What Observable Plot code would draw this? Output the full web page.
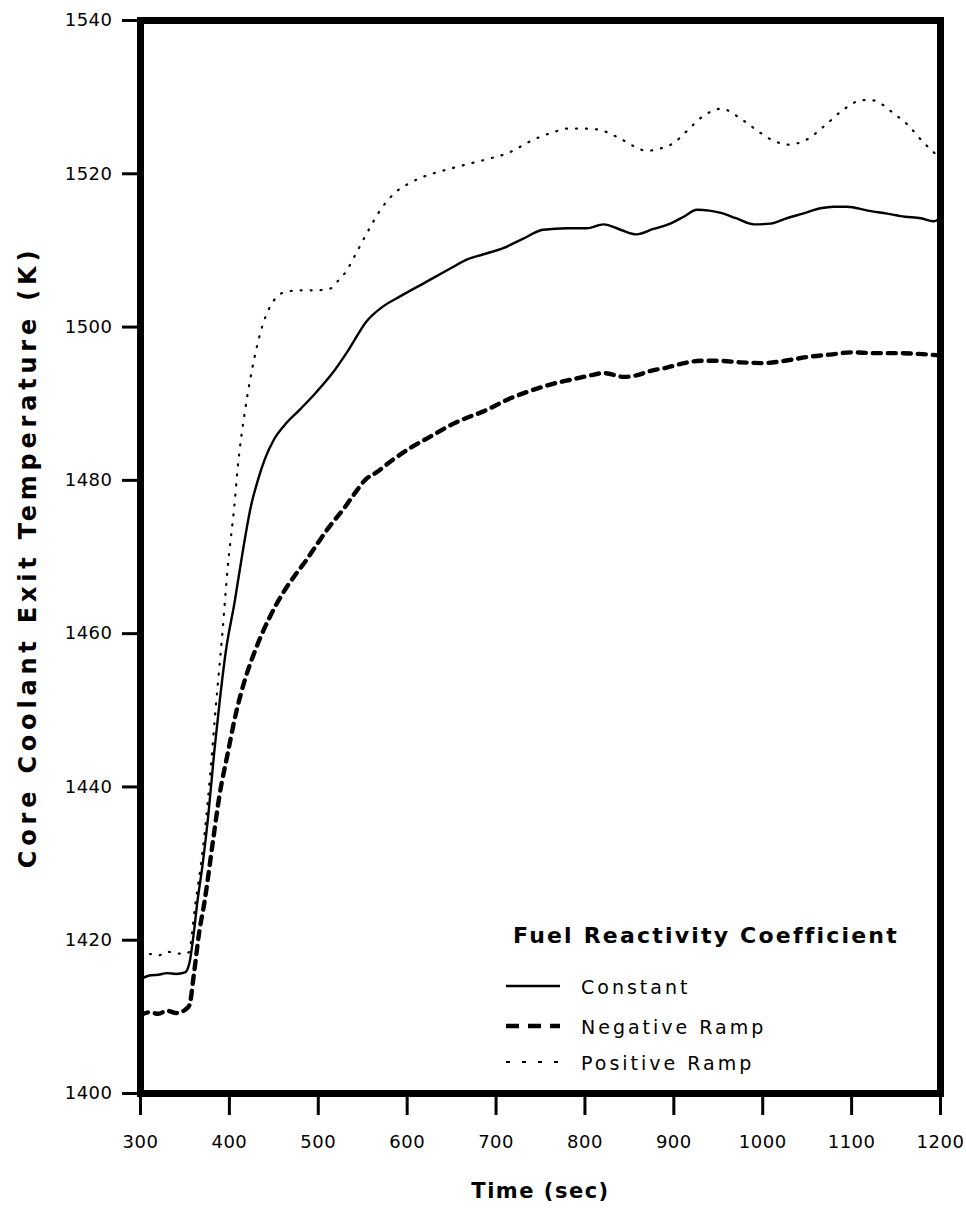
<!DOCTYPE html>
<html>
<head>
<meta charset="utf-8">
<script src="https://cdn.jsdelivr.net/npm/d3@7"></script>
<script src="https://cdn.jsdelivr.net/npm/@observablehq/plot@0.6"></script>
<style>
  html, body { margin: 0; padding: 0; background: #fff; }
  #wrap { position: relative; width: 966px; height: 1217px; overflow: hidden; }
  #wrap svg text { fill: #000; }
  g[aria-label="y-axis tick label"] text, g[aria-label="x-axis tick label"] text { font-size: 18px; letter-spacing: 0.5px; }
  g[aria-label="y-axis label"] text { font-size: 24px; font-weight: bold; letter-spacing: 4.8px; }
  g[aria-label="x-axis label"] text { font-size: 21px; font-weight: bold; letter-spacing: 1.5px; }
  #legend { position: absolute; left: 0; top: 0; }
  #legend text { font-family: "DejaVu Sans", sans-serif; fill: #000; }
</style>
</head>
<body>
<div id="wrap"></div>
<script>
// ---- data ----
const xTicks = [300, 400, 500, 600, 700, 800, 900, 1000, 1100, 1200];
const yTicks = [1400, 1420, 1440, 1460, 1480, 1500, 1520, 1540];

const seriesNames = ["Constant", "Negative Ramp", "Positive Ramp"];
const legendTitle = "Fuel Reactivity Coefficient";

const constantTime = [300,310,320,330,340,350,355,360,364,370,376,383,389,396,406,415,424,432,440,450,462,479,497,516,535,554,573,592,620,648,667,686,708,730,753,780,802,821,840,858,877,896,911,926,940,953,970,990,1009,1027,1045,1065,1080,1095,1118,1140,1160,1178,1192,1201];
const constantTemp = [1414.9,1415.4,1415.5,1415.7,1415.6,1415.8,1417,1421,1425,1430,1436,1444.6,1451.1,1457.7,1464.2,1470.7,1476.5,1480,1482.8,1485.3,1487.2,1489.2,1491.4,1494,1497.2,1500.7,1502.7,1504,1505.8,1507.6,1508.8,1509.5,1510.3,1511.5,1512.7,1512.9,1512.9,1513.4,1512.7,1512.1,1512.8,1513.5,1514.4,1515.3,1515.2,1514.9,1514.2,1513.4,1513.5,1514.2,1514.8,1515.5,1515.7,1515.7,1515.2,1514.8,1514.4,1514.2,1513.8,1514.3];

const negativeTime = [300,310,320,330,340,350,355,360,366,372,381,389,398,407,418,428,437.5,450,463,475,486,500,514,528,541,554,565,584,603,626,652,670,686,700,716,739,764,787,806,821,844,858,874,892,908,930,950,975,1000,1025,1050,1075,1100,1125,1150,1175,1200];
const negativeTemp = [1410.2,1410.6,1410.4,1410.8,1410.5,1410.9,1411.5,1415.5,1421,1425,1432.5,1439.0,1444.3,1449.4,1454.2,1457.5,1460.2,1463.2,1465.8,1467.8,1469.5,1471.9,1474.2,1476.2,1478.3,1480.2,1481.0,1482.7,1484.2,1485.7,1487.4,1488.3,1489,1489.8,1490.7,1491.7,1492.6,1493.2,1493.7,1494,1493.5,1493.7,1494.3,1494.7,1495.2,1495.6,1495.6,1495.4,1495.3,1495.6,1496.1,1496.4,1496.7,1496.6,1496.6,1496.5,1496.3];

const positiveTime = [300,310,320,330,340,350,355,358,362,367,372,379,384.5,392,398,406,409,418,428,437.5,449,463.5,480,497,513,522,531,542,554,570,588,603,618,640,666,690,711,745,764,781,797,813,838,855,869,885,902,913,934,954,970,986,1009,1029,1050,1071,1091,1112,1123,1135,1146,1163,1180,1199];
const positiveTemp = [1417.8,1418.2,1418.0,1418.5,1418.3,1418.2,1418.5,1421,1425,1429,1433.8,1442.4,1450.2,1459.9,1468.5,1477.2,1481.2,1489.4,1495.9,1500.3,1503.3,1504.6,1504.8,1504.8,1505,1506,1507.2,1509.5,1512.1,1515.3,1517.7,1518.8,1519.6,1520.4,1521.2,1521.9,1522.6,1524.6,1525.4,1525.9,1525.9,1525.8,1524.7,1523.6,1523.0,1523.3,1524.2,1525.4,1527.6,1528.5,1527.6,1526.3,1524.5,1523.8,1524.5,1526.4,1528.4,1529.6,1529.6,1529,1528.0,1526.4,1524.2,1522.1];

// ---- build tables ----
const toRows = (ts, vs) => ts.map((t, i) => ({t, v: vs[i]}));
const constantRows = toRows(constantTime, constantTemp);
const negativeRows = toRows(negativeTime, negativeTemp);
const positiveRows = toRows(positiveTime, positiveTemp);

const styles = {
  "Constant": {strokeWidth: 2.4, strokeDasharray: null},
  "Negative Ramp": {strokeWidth: 4.4, strokeDasharray: "8,7"},
  "Positive Ramp": {strokeWidth: 2.2, strokeDasharray: "1,9"}
};

const fmt = d => String(d);

const chart = Plot.plot({
  width: 966,
  height: 1217,
  marginLeft: 140,
  marginRight: 26,
  marginTop: 20,
  marginBottom: 124,
  x: {domain: [300, 1200]},
  y: {domain: [1400, 1540]},
  style: {fontFamily: "DejaVu Sans, sans-serif", fontSize: "18px", color: "#000", background: "#fff"},
  marks: [
    Plot.axisY(yTicks, {tickSize: 18, tickPadding: 10, strokeWidth: 3, tickFormat: fmt, fontSize: 18,
      label: "Core Coolant Exit Temperature (K)", labelAnchor: "center", labelOffset: 122, labelArrow: "none"}),
    Plot.axisX(xTicks, {tickSize: 22, tickPadding: 20, strokeWidth: 3, tickFormat: fmt, fontSize: 18,
      label: "Time (sec)", labelAnchor: "center", labelOffset: 104, labelArrow: "none"}),
    Plot.line(constantRows, {x: "t", y: "v", stroke: "#000", strokeWidth: styles["Constant"].strokeWidth, strokeLinecap: "round", curve: "monotone-x"}),
    Plot.line(negativeRows, {x: "t", y: "v", stroke: "#000", strokeWidth: styles["Negative Ramp"].strokeWidth, strokeDasharray: styles["Negative Ramp"].strokeDasharray, strokeLinecap: "round", curve: "monotone-x"}),
    Plot.line(positiveRows, {x: "t", y: "v", stroke: "#000", strokeWidth: styles["Positive Ramp"].strokeWidth, strokeDasharray: styles["Positive Ramp"].strokeDasharray, strokeLinecap: "round", curve: "monotone-x"}),
    Plot.frame({stroke: "#000", strokeWidth: 7})
  ]
});
document.getElementById("wrap").appendChild(chart);

// ---- legend overlay (inside plot area, lower right) ----
const ns = "http://www.w3.org/2000/svg";
const leg = document.createElementNS(ns, "svg");
leg.setAttribute("id", "legend");
leg.setAttribute("width", 966);
leg.setAttribute("height", 1217);
document.getElementById("wrap").appendChild(leg);

const title = document.createElementNS(ns, "text");
title.setAttribute("x", 513);
title.setAttribute("y", 943);
title.setAttribute("font-size", 22);
title.setAttribute("font-weight", "bold");
title.setAttribute("letter-spacing", "2.2");
title.textContent = legendTitle;
leg.appendChild(title);

const rowY = [986, 1026, 1062];
seriesNames.forEach((name, i) => {
  const s = styles[name];
  const ln = document.createElementNS(ns, "line");
  ln.setAttribute("x1", 506); ln.setAttribute("x2", 560);
  ln.setAttribute("y1", rowY[i]); ln.setAttribute("y2", rowY[i]);
  ln.setAttribute("stroke", "#000");
  ln.setAttribute("stroke-width", name === "Positive Ramp" ? 2 : s.strokeWidth);
  if (name === "Negative Ramp") ln.setAttribute("stroke-dasharray", "13,9");
  if (name === "Positive Ramp") ln.setAttribute("stroke-dasharray", "4,12");
  leg.appendChild(ln);
  const tx = document.createElementNS(ns, "text");
  tx.setAttribute("x", 581);
  tx.setAttribute("y", rowY[i] + 8);
  tx.setAttribute("font-size", 19);
  tx.setAttribute("letter-spacing", "3");
  tx.textContent = name;
  leg.appendChild(tx);
});
</script>
</body>
</html>
